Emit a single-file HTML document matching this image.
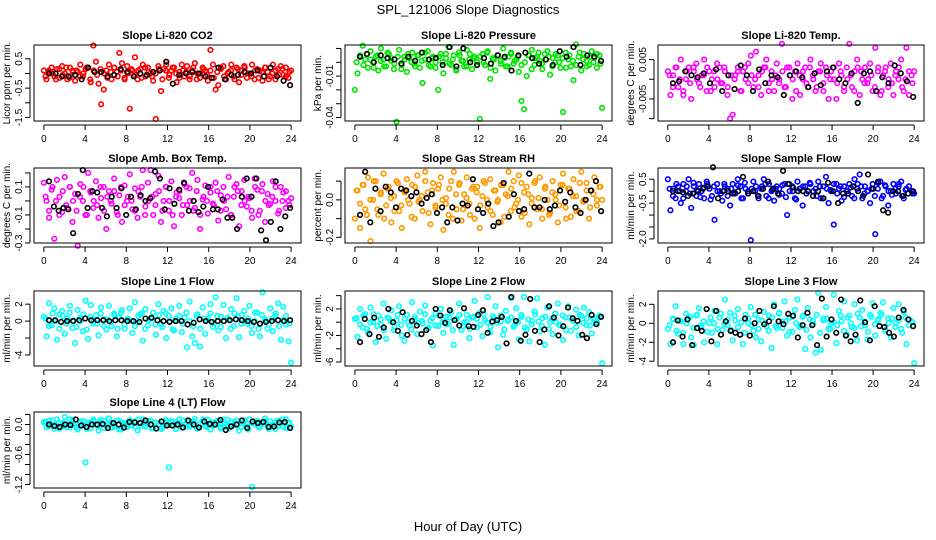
<!DOCTYPE html>
<html><head><meta charset="utf-8"><style>
html,body{margin:0;padding:0;background:#fff;}
svg{display:block;font-family:"Liberation Sans",sans-serif;}
</style></head><body>
<svg id="chart" width="936" height="540" viewBox="0 0 936 540">
<text x="468" y="14" text-anchor="middle" font-size="13">SPL_121006  Slope Diagnostics</text>
<text x="468" y="531" text-anchor="middle" font-size="13">Hour of Day (UTC)</text>
</svg>
<script>
const xTicks = [0,4,8,12,16,20,24];
const co2Color = [0.1,-0.2,0.05,0.2,-0.1,0.15,-0.15,0.25,0.0,-0.2,0.2,0.1,-0.25,0.05,0.3,-0.1,0.15,0.2,-0.3,0.95,0.4,-0.35,-1.05,-0.55,0.1,0.3,-0.2,0.2,0.05,0.7,0.35,-0.15,0.25,-1.2,0.1,0.55,-0.2,0.15,0.3,-0.1,0.2,0.0,-0.25,-1.55,0.25,-0.6,0.15,0.3,-0.15,0.1,0.2,-0.3,0.05,0.3,-0.1,0.25,-0.2,0.1,0.35,0.0,-0.15,0.2,0.1,-0.25,0.8,0.3,-0.55,-0.4,0.15,0.25,-0.2,0.05,0.3,-0.1,0.2,-0.3,0.1,0.25,-0.15,0.0,0.3,-0.2,0.15,0.1,-0.25,0.2,0.05,-0.1,0.3,-0.2,0.15,0.25,-0.05,0.2,-0.15,0.1];
const co2Band = [-0.1,0.1,0.0,-0.2,0.15,-0.05,0.2,-0.15,0.05,0.1,-0.1,0.0,0.2,-0.2,0.1,-0.05,0.15,0.0,-0.15,0.05,0.2,-0.1,0.1,-0.2,0.0,0.15,-0.05,0.1,-0.15,0.2,0.05,-0.1,0.0,0.15,-0.2,0.1,-0.05,0.2,0.0,-0.15,0.1,0.05,-0.1,0.2,-0.2,0.0,0.15,-0.05,0.1,-0.15,0.05,0.2,-0.1,0.0,0.1,-0.2,0.15,-0.05,0.2,0.0,-0.1,0.1,-0.15,0.05,0.2,-0.2,0.0,0.1,-0.05,0.15,-0.1,0.05];
const co2Black = [0.0,0.0,-0.1,-0.1,-0.05,-0.2,0.2,0.05,0.05,-0.1,-0.05,0.15,0.05,-0.1,0.0,-0.05,0.05,0.1,0.4,-0.35,-0.05,0.0,0.05,0.0,-0.1,-0.15,0.2,-0.2,-0.05,-0.05,0.05,0.0,0.1,-0.1,0.2,-0.1,-0.25,-0.4];
const presColor = [-0.02,-0.008,0.005,0.012,0.002,-0.004,0.008,0.0,0.004,-0.006,0.01,0.002,-0.003,0.006,0.001,-0.005,-0.043,0.009,-0.002,0.004,-0.007,0.003,0.007,-0.001,0.005,-0.004,-0.015,0.002,0.008,-0.003,0.004,0.0,-0.02,0.006,-0.008,0.003,0.011,-0.002,0.005,-0.006,0.007,0.001,-0.003,0.009,0.002,-0.005,0.004,0.0,-0.041,0.006,-0.002,0.008,-0.012,0.003,-0.006,0.005,0.001,0.01,-0.003,0.004,0.007,-0.001,0.002,-0.007,-0.028,-0.034,-0.01,0.005,0.009,-0.002,0.004,0.001,-0.005,0.006,0.008,-0.009,0.003,0.0,0.005,-0.004,-0.036,0.007,0.002,-0.003,-0.013,0.013,0.004,-0.006,0.006,0.001,-0.002,0.008,0.003,-0.004,0.005,-0.033];
const presBand = [0.0,0.004,-0.002,0.006,0.002,-0.004,0.005,0.001,-0.003,0.007,0.003,-0.001,0.004,-0.005,0.002,0.006,0.0,-0.003,0.005,0.001,0.007,-0.002,0.003,-0.004,0.004,0.0,0.006,-0.001,0.002,-0.005,0.005,0.001,-0.003,0.006,0.003,-0.002,0.004,0.0,0.007,-0.004,0.002,0.005,-0.001,0.003,-0.003,0.006,0.001,0.004,-0.002,0.0,0.005,-0.005,0.003,0.007,-0.001,0.002,0.004,-0.003,0.006,0.0,0.003,-0.004,0.005,0.001,-0.002,0.007,0.002,-0.003,0.004,0.0,0.006,-0.001];
const presBlack = [0.004,0.006,0.0,0.005,0.003,0.002,-0.001,0.004,0.001,0.007,0.002,0.003,-0.002,0.011,-0.003,0.01,0.0,-0.002,0.003,-0.001,0.005,0.004,-0.006,0.005,0.007,0.003,-0.001,0.002,-0.002,0.008,0.004,0.011,-0.002,0.005,0.004,0.001];
const tempColor = [0.002,-0.004,0.001,0.003,-0.002,0.005,-0.004,0.0,0.003,-0.005,0.002,0.004,-0.001,0.001,0.005,-0.003,0.002,0.0,-0.002,0.004,0.003,-0.001,0.002,-0.004,-0.01,-0.009,0.001,0.003,-0.003,0.002,0.0,0.004,0.006,-0.002,0.007,0.001,-0.004,0.003,0.005,-0.001,0.002,-0.003,0.004,0.0,0.009,-0.002,0.003,0.001,-0.005,0.002,0.004,-0.004,0.0,0.003,-0.002,0.005,0.001,-0.003,0.002,0.004,-0.001,0.003,-0.005,0.002,0.0,-0.005,0.004,0.001,-0.003,0.003,0.009,-0.002,0.002,0.005,-0.004,0.0,0.003,-0.001,0.004,-0.003,0.008,0.002,-0.004,0.001,0.003,-0.002,0.004,-0.004,0.002,0.0,0.005,-0.003,0.008,-0.004,0.001,0.002];
const tempBand = [0.001,-0.002,0.003,0.0,-0.003,0.002,-0.001,0.003,0.0,-0.002,0.001,0.003,-0.003,0.002,0.0,-0.001,0.003,-0.002,0.001,0.0,0.002,-0.003,0.003,-0.001,0.001,0.0,-0.002,0.002,0.003,-0.003,0.0,0.001,-0.001,0.002,-0.002,0.003,0.0,-0.003,0.001,0.002,-0.001,0.003,0.0,-0.002,0.002,-0.003,0.001,0.0,0.003,-0.001,0.002,-0.002,0.0,0.001,-0.003,0.003,0.002,-0.001,0.0,0.001,-0.002,0.003,-0.003,0.002,0.0,-0.001,0.001,0.003,-0.002,0.0,0.002,-0.001];
const tempBlack = [-0.001,-0.0005,0.002,0.001,0.0005,0.0015,-0.001,0.0025,-0.003,0.001,-0.0025,0.0035,0.001,-0.003,0.0025,-0.001,0.001,0.0005,-0.004,0.001,0.002,0.0005,-0.002,0.0015,-0.0015,0.002,0.003,0.0,-0.001,0.0015,-0.006,0.0015,0.002,-0.003,0.0005,-0.001,0.0035,0.0015,-0.0005,-0.0045];
const ambColor = [0.13,0.0,-0.12,0.08,-0.27,0.15,0.03,-0.08,0.17,-0.05,0.1,-0.15,0.05,-0.32,0.12,0.0,-0.1,0.2,0.06,-0.05,0.14,-0.12,0.02,0.1,-0.2,0.07,-0.02,0.16,-0.08,0.04,-0.15,0.11,0.0,0.19,-0.06,0.09,-0.12,0.03,0.22,-0.04,0.13,0.22,-0.1,0.05,0.18,-0.15,0.0,0.1,-0.07,0.14,-0.18,0.06,0.02,-0.1,0.12,-0.03,0.09,0.2,-0.05,0.15,-0.2,0.01,0.11,-0.09,0.06,-0.02,0.13,-0.14,0.04,0.1,-0.06,0.17,-0.1,0.03,0.12,-0.18,0.07,0.15,-0.04,0.02,-0.12,0.16,0.08,-0.07,0.12,-0.15,0.05,-0.02,0.14,0.0,-0.09,0.1,0.06,-0.05,0.0,0.02];
const ambBand = [0.03,-0.07,0.1,0.0,-0.1,0.07,-0.03,0.1,0.0,-0.07,0.03,0.1,-0.1,0.07,0.0,-0.03,0.1,-0.07,0.03,0.0,0.07,-0.1,0.1,-0.03,0.03,0.0,-0.07,0.07,0.1,-0.1,0.0,0.03,-0.03,0.07,-0.07,0.1,0.0,-0.1,0.03,0.07,-0.03,0.1,0.0,-0.07,0.07,-0.1,0.03,0.0,0.1,-0.03,0.07,-0.07,0.0,0.03,-0.1,0.1,0.07,-0.03,0.0,0.03,-0.07,0.1,-0.1,0.07,0.0,-0.03,0.03,0.1,-0.07,0.0,0.07,-0.03];
const ambBlack = [0.14,-0.04,-0.07,-0.05,-0.06,-0.23,0.05,0.22,-0.05,0.07,0.06,-0.05,-0.11,0.03,-0.05,0.09,-0.1,0.03,-0.06,0.04,0.0,0.02,0.21,0.16,-0.06,0.09,-0.02,0.08,0.13,-0.07,0.0,-0.08,-0.04,0.1,-0.06,-0.06,0.01,-0.12,-0.12,-0.2,0.03,0.16,0.03,0.16,-0.21,-0.28,-0.15,0.14,-0.2,-0.11,-0.05];
const rhColor = [-0.1,0.05,-0.15,0.08,-0.05,0.12,-0.22,0.0,0.1,-0.08,0.04,0.14,-0.03,0.07,-0.12,0.02,0.1,-0.06,-0.15,0.05,0.11,-0.02,0.08,-0.1,0.13,0.0,-0.06,0.15,0.04,-0.13,0.09,-0.03,0.06,0.12,-0.16,0.01,-0.08,0.1,0.15,-0.05,0.08,-0.11,0.03,0.12,-0.02,0.06,-0.1,0.07,-0.15,0.02,0.09,-0.04,0.11,-0.08,0.05,0.0,-0.12,0.08,0.03,0.15,-0.06,0.1,-0.02,0.13,-0.09,0.04,0.07,-0.13,0.01,0.09,-0.05,0.12,-0.1,0.06,0.0,-0.07,0.1,0.03,-0.12,0.08,0.14,-0.04,0.06,-0.09,0.11,0.02,-0.06,0.15,0.0,0.09,-0.1,0.05,0.12,-0.03,0.07,0.0];
const rhBand = [0.05,-0.02,0.08,-0.08,0.0,0.1,-0.05,0.03,-0.1,0.06,0.01,-0.06,0.09,-0.03,0.04,0.0,-0.09,0.07,-0.01,0.02,0.1,-0.07,0.05,-0.04,0.08,0.0,-0.02,0.06,-0.1,0.03,0.09,-0.05,0.01,-0.08,0.07,0.04,-0.03,0.1,0.0,-0.06,0.05,-0.01,0.08,-0.09,0.02,0.06,-0.04,0.0,0.09,-0.07,0.03,-0.02,0.1,0.01,-0.05,0.07,-0.08,0.04,0.0,-0.03,0.08,-0.1,0.06,0.02,-0.06,0.09,-0.01,0.05,-0.04,0.03,0.0,0.07];
const rhBlack = [-0.08,0.15,-0.12,0.06,-0.06,0.07,0.04,-0.04,0.06,0.05,0.02,0.04,-0.02,0.01,0.03,-0.07,-0.04,-0.12,-0.04,-0.11,-0.02,-0.03,0.11,-0.05,-0.07,-0.02,-0.14,-0.12,0.09,-0.09,0.03,-0.06,-0.05,0.14,-0.04,-0.04,0.0,-0.05,-0.03,0.05,-0.01,0.04,-0.04,-0.07,0.0,0.05,0.1,-0.06];
const flowColor = [0.5,-0.8,0.1,-0.3,0.2,-0.5,0.3,0.0,0.5,-0.7,0.2,-0.2,0.3,0.0,-0.3,0.4,0.1,-0.2,-1.2,0.3,0.0,-0.4,0.2,0.1,-0.6,0.3,-0.1,0.5,0.2,-0.3,0.1,0.0,-2.05,0.4,0.2,-0.3,0.1,0.5,-0.2,0.3,0.0,-0.4,0.2,0.1,-0.1,0.3,-1.0,0.0,0.2,-0.3,0.4,0.1,-0.6,0.2,0.0,0.3,-0.2,0.1,0.4,-0.3,0.2,0.6,-0.5,0.0,-1.4,0.3,0.1,-0.4,0.2,0.0,0.3,-0.2,0.5,0.1,0.7,-0.3,0.2,0.0,-0.5,0.3,-1.8,0.1,0.4,-0.2,0.2,-0.6,0.0,0.3,-0.1,0.2,0.4,-0.3,0.1,0.2,0.0,-0.1];
const flowBand = [0.1,-0.2,0.3,0.0,-0.3,0.2,-0.1,0.35,0.05,-0.25,0.15,0.3,-0.35,0.2,0.0,-0.1,0.3,-0.2,0.1,-0.05,0.25,-0.3,0.35,-0.1,0.1,0.0,-0.2,0.2,0.3,-0.3,0.05,0.1,-0.15,0.25,-0.25,0.3,0.0,-0.35,0.1,0.2,-0.1,0.35,0.0,-0.2,0.2,-0.3,0.1,0.05,0.3,-0.1,0.2,-0.25,0.0,0.15,-0.3,0.3,0.2,-0.1,0.0,0.1,-0.2,0.35,-0.3,0.25,0.0,-0.15,0.1,0.3,-0.2,0.05,0.2,-0.1];
const flowBlack = [0.0,0.0,-0.05,-0.2,-0.1,0.0,0.1,0.2,1.0,-0.3,0.0,0.0,-0.1,0.0,0.6,-0.1,0.0,-0.2,0.1,0.4,0.1,-0.1,0.85,0.3,0.15,0.0,0.0,0.0,-0.2,0.0,-0.3,0.35,0.0,-0.5,-0.1,-0.1,0.2,0.0,-0.2,0.7,0.1,0.4,-0.8,-0.9,0.0,0.0,-0.2,-0.1,0.0];
const line1Color = [0.5,-1.8,2.1,-0.5,1.5,-2.2,0.8,1.2,-1.5,0.3,1.8,-0.8,-2.6,1.3,0.0,-1.2,2.4,-2.1,1.9,-0.3,0.7,-1.7,1.6,0.2,-1.0,1.8,-0.6,0.9,-1.8,0.4,1.3,-0.9,0.2,1.5,-1.4,2.2,-0.2,0.8,-2.3,1.4,-0.5,0.3,1.0,-1.6,2.0,-0.4,1.2,-2.0,0.6,1.5,-1.1,0.0,1.8,-1.3,0.4,-3.1,2.3,-1.8,-2.6,0.8,-3.0,1.6,-1.5,0.3,2.0,-0.7,2.8,-1.1,0.5,1.9,-2.0,0.2,1.4,-0.6,2.7,-1.9,0.7,1.2,-0.3,1.8,-1.4,0.0,1.0,-1.8,3.4,0.2,-0.9,1.5,-1.2,0.6,2.1,-2.2,1.7,-0.4,-2.4,-4.9];
const line1Band = [0.3,-0.6,0.9,0.0,-0.9,0.6,-0.3,1.0,0.1,-0.7,0.4,0.8,-1.0,0.5,0.0,-0.3,0.9,-0.6,0.2,-0.1,0.7,-0.9,1.0,-0.4,0.3,0.0,-0.6,0.6,0.9,-0.9,0.1,0.3,-0.4,0.7,-0.7,0.9,0.0,-1.0,0.3,0.6,-0.3,1.0,0.0,-0.6,0.6,-0.9,0.3,0.1,0.9,-0.3,0.6,-0.7,0.0,0.4,-0.9,0.9,0.6,-0.3,0.0,0.3,-0.6,1.0,-0.9,0.7,0.0,-0.4,0.3,0.9,-0.6,0.1,0.6,-0.3];
const line1Black = [0.1,0.1,-0.1,0.0,0.0,0.1,0.3,0.1,0.1,0.1,0.0,0.1,0.1,0.0,0.0,-0.1,0.3,0.4,0.1,0.0,-0.1,0.0,0.0,-0.4,-0.2,0.2,0.0,-0.1,0.0,0.0,0.1,0.2,0.1,0.0,-0.1,-0.3,-0.1,0.0,0.1,0.0,0.1];
const line2Color = [0.5,-2.2,2.0,-0.8,1.2,-1.5,2.2,0.0,-3.0,1.0,-0.4,2.8,-2.5,0.6,1.8,-1.2,0.3,2.4,-2.0,-2.8,1.1,-0.5,3.0,0.4,-1.8,1.6,-0.2,2.5,-1.0,0.2,-3.5,1.3,-0.6,2.0,-1.6,0.8,-0.3,1.5,-3.4,0.5,2.8,-1.2,0.0,1.1,-2.4,0.7,3.2,-0.8,1.4,-2.1,0.3,3.8,-1.5,0.9,2.4,-3.8,0.1,-1.9,1.7,0.4,3.6,-0.7,2.1,-2.6,0.8,3.8,-1.1,-2.9,0.2,1.6,3.6,-1.4,0.6,-3.4,2.2,0.0,-1.8,1.3,2.8,-0.5,-2.7,0.7,2.4,-1.3,0.3,1.9,-2.0,0.9,2.2,-0.4,1.5,-1.7,0.6,-0.2,1.0,-6.2];
const line2Band = [0.6,-0.3,1.0,-1.0,0.0,1.2,-0.6,0.4,-1.2,0.7,0.1,-0.7,1.1,-0.4,0.5,0.0,-1.1,0.8,-0.1,0.2,1.2,-0.8,0.6,-0.5,1.0,0.0,-0.3,0.7,-1.2,0.4,1.1,-0.6,0.1,-1.0,0.8,0.5,-0.4,1.2,0.0,-0.7,0.6,-0.1,1.0,-1.1,0.2,0.7,-0.5,0.0,1.1,-0.8,0.4,-0.3,1.2,0.1,-0.6,0.8,-1.0,0.5,0.0,-0.4,1.0,-1.2,0.7,0.2,-0.7,1.1,-0.1,0.6,-0.5,0.4,0.0,0.8];
const line2Black = [-3.0,0.5,-1.8,0.7,-2.2,-0.8,2.0,0.0,-1.3,1.5,-1.9,0.2,-0.5,-1.8,-1.2,-3.0,2.0,1.0,-0.1,1.8,0.3,-0.5,2.1,-0.6,-0.7,1.1,1.8,-1.6,0.1,0.3,0.8,-3.2,3.8,0.2,-2.8,-1.9,3.5,-1.3,-3.0,-1.1,2.4,0.7,-2.0,-0.6,2.2,0.6,0.2,-1.9,-2.4,1.1,-0.3,0.8];
const line3Color = [-0.6,-2.2,0.4,1.8,-1.1,0.2,-2.2,1.0,0.5,-1.5,-2.3,0.8,1.6,-0.4,-2.0,1.5,0.0,-1.0,1.3,-2.2,0.6,-0.7,2.5,-0.2,1.1,-1.8,0.3,1.5,-1.2,-2.2,0.9,0.0,1.7,-0.8,-1.5,0.4,-1.9,1.2,-0.3,0.8,-2.6,2.0,-0.5,1.1,0.2,2.3,-1.3,0.6,-0.9,1.4,2.5,-0.2,0.7,-2.7,1.6,-1.5,0.3,-3.1,3.2,-2.8,0.5,1.7,-0.6,0.0,3.0,-2.1,1.3,0.2,2.3,-1.2,0.8,-0.4,2.0,-1.8,0.6,1.4,-0.2,-1.7,0.9,2.1,-1.3,0.3,1.1,2.2,-0.8,0.5,-1.5,1.6,0.0,2.0,-0.6,1.2,-2.2,0.4,0.2,-4.2];
const line3Band = [-0.2,0.5,-0.8,0.3,-1.0,0.0,0.7,-0.5,0.9,-0.3,0.2,-0.9,0.6,0.0,-0.6,1.0,-0.1,0.4,-0.7,0.8,-0.4,0.1,-1.0,0.5,-0.2,0.9,-0.6,0.3,0.0,-0.8,0.6,-0.3,1.0,-0.5,0.2,-0.9,0.7,0.0,-0.4,0.8,-0.7,0.4,-0.1,0.9,-1.0,0.3,0.5,-0.6,0.1,-0.2,0.8,-0.8,0.6,0.0,-0.5,1.0,-0.3,0.2,-0.9,0.7,-0.1,0.4,0.9,-0.7,0.0,0.5,-0.4,0.3,-1.0,0.6,-0.2,0.1];
const line3Black = [-2.0,0.3,-1.4,0.4,-2.3,-0.5,-0.8,1.5,-1.9,1.3,-1.2,0.2,-0.8,-1.0,-1.2,0.5,-1.3,0.0,1.3,-0.1,0.2,1.8,0.2,-0.1,1.0,0.8,-1.5,-0.2,1.1,-0.2,-2.3,2.6,-1.4,0.4,-1.0,2.5,-1.3,-1.9,-1.2,2.4,0.1,-1.8,1.8,-0.3,-0.4,-1.0,-1.4,0.6,1.4,0.4,-0.3];
const line4Color = [0.05,-0.05,0.08,0.0,-0.08,0.1,0.03,-0.04,0.15,0.0,-0.06,0.09,0.02,-0.1,0.06,0.0,-0.76,0.04,-0.07,0.1,0.0,-0.12,0.05,0.08,-0.03,0.12,-0.06,0.02,0.07,-0.1,0.04,0.0,-0.05,0.09,-0.02,0.06,-0.12,0.03,0.1,-0.04,0.01,0.08,-0.07,0.04,0.0,-0.09,0.06,0.02,-0.86,0.07,-0.03,0.05,0.1,-0.06,0.0,0.08,-0.04,0.03,0.11,-0.08,0.02,0.06,-0.03,0.09,-0.1,0.04,0.0,0.07,-0.05,0.1,0.02,-0.08,0.05,-0.02,0.08,-0.12,0.03,0.06,-0.04,0.1,-1.25,0.01,0.07,-0.06,0.04,0.12,-0.03,0.06,0.0,-0.09,0.08,0.03,-0.05,0.1,0.02,-0.04];
const line4Band = [0.05,-0.03,0.08,0.0,-0.08,0.03,-0.05,0.1,0.0,-0.06,0.04,0.07,-0.09,0.02,0.06,-0.02,0.09,-0.07,0.01,0.05,-0.04,0.08,-0.1,0.03,0.0,0.06,-0.05,0.1,-0.03,0.02,0.07,-0.08,0.04,0.0,-0.06,0.09,-0.01,0.05,-0.09,0.03,0.08,-0.04,0.0,0.06,-0.07,0.02,0.1,-0.05,0.04,-0.02,0.07,-0.08,0.01,0.09,-0.03,0.05,0.0,-0.06,0.08,-0.1,0.03,0.06,-0.04,0.02,0.07,-0.09,0.0,0.05,-0.02,0.1,-0.07,0.04];
const line4Black = [0.0,-0.03,-0.05,0.0,-0.01,0.1,-0.02,-0.05,0.0,0.0,0.01,-0.07,0.03,0.0,-0.06,0.05,0.04,0.03,0.08,0.0,-0.08,0.06,-0.02,-0.02,0.0,-0.06,0.08,0.0,-0.06,0.06,0.01,0.0,0.09,-0.11,-0.04,0.0,0.08,-0.07,0.06,0.03,0.05,-0.05,-0.04,0.04,0.05,-0.07];

const co2Ticks = [-1.5,-1.0,-0.5,0,0.5], co2Labels = ["-1.5","","-0.5","","0.5"];
const presTicks = [-0.04,-0.03,-0.02,-0.01,0,0.01], presLabels = ["-0.04","","","-0.01","",""];
const tempTicks = [-0.01,-0.005,0,0.005], tempLabels = ["","-0.005","","0.005"];
const ambTicks = [-0.3,-0.2,-0.1,0,0.1,0.2], ambLabels = ["-0.3","","-0.1","","0.1",""];
const rhTicks = [-0.2,-0.1,0,0.1], rhLabels = ["-0.2","","0.0",""];
const flowTicks = [-2.0,-1.5,-1.0,-0.5,0,0.5], flowLabels = ["-2.0","","","-0.5","","0.5"];
const line1Ticks = [-4,-2,0,2], line1Labels = ["-4","","0","2"];
const line2Ticks = [-6,-4,-2,0,2,4], line2Labels = ["-6","","-2","","2",""];
const line3Ticks = [-4,-2,0,2], line3Labels = ["-4","-2","0","2"];
const line4Ticks = [-1.2,-1.0,-0.8,-0.6,-0.4,-0.2,0,0.2], line4Labels = ["-1.2","","","-0.6","","","0.0",""];

const NS = "http://www.w3.org/2000/svg";
const svg = document.getElementById('chart');
function mk(tag, attrs, parent){ const e=document.createElementNS(NS,tag); for(const k in attrs) e.setAttribute(k,attrs[k]); (parent||svg).appendChild(e); return e; }
const cols=[[34,301],[345,612],[658,924]];
const rows=[[45,121],[168,243],[291,366],[412,488]];
const panels=[
 {name:'co2',title:'Slope Li-820 CO2',ylab:'Licor ppm per min.',col:0,row:0,ymin:-1.62,ymax:0.97,ticks:co2Ticks,labels:co2Labels,c:co2Color,d:co2Band,b:co2Black,color:'#ff0000'},
 {name:'pressure',title:'Slope Li-820 Pressure',ylab:'kPa per min.',col:1,row:0,ymin:-0.0425,ymax:0.0125,ticks:presTicks,labels:presLabels,c:presColor,d:presBand,b:presBlack,color:'#00e600'},
 {name:'li820-temp',title:'Slope Li-820 Temp.',ylab:'degrees C per min.',col:2,row:0,ymin:-0.0106,ymax:0.0087,ticks:tempTicks,labels:tempLabels,c:tempColor,d:tempBand,b:tempBlack,color:'#ff00ff'},
 {name:'amb-box-temp',title:'Slope Amb. Box Temp.',ylab:'degrees C per min.',col:0,row:1,ymin:-0.3,ymax:0.235,ticks:ambTicks,labels:ambLabels,c:ambColor,d:ambBand,b:ambBlack,color:'#ff00ff'},
 {name:'gas-stream-rh',title:'Slope Gas Stream RH',ylab:'percent per min.',col:1,row:1,ymin:-0.23,ymax:0.17,ticks:rhTicks,labels:rhLabels,c:rhColor,d:rhBand,b:rhBlack,color:'#ff9900'},
 {name:'sample-flow',title:'Slope Sample Flow',ylab:'ml/min per min.',col:2,row:1,ymin:-2.17,ymax:0.97,ticks:flowTicks,labels:flowLabels,c:flowColor,d:flowBand,b:flowBlack,color:'#0000ff'},
 {name:'line1-flow',title:'Slope Line 1 Flow',ylab:'ml/min per min.',col:0,row:2,ymin:-5.3,ymax:3.55,ticks:line1Ticks,labels:line1Labels,c:line1Color,d:line1Band,b:line1Black,color:'#00ffff'},
 {name:'line2-flow',title:'Slope Line 2 Flow',ylab:'ml/min per min.',col:1,row:2,ymin:-6.6,ymax:4.7,ticks:line2Ticks,labels:line2Labels,c:line2Color,d:line2Band,b:line2Black,color:'#00ffff'},
 {name:'line3-flow',title:'Slope Line 3 Flow',ylab:'ml/min per min.',col:2,row:2,ymin:-4.5,ymax:3.4,ticks:line3Ticks,labels:line3Labels,c:line3Color,d:line3Band,b:line3Black,color:'#00ffff'},
 {name:'line4-flow',title:'Slope Line 4 (LT) Flow',ylab:'ml/min per min.',col:0,row:3,ymin:-1.27,ymax:0.25,ticks:line4Ticks,labels:line4Labels,c:line4Color,d:line4Band,b:line4Black,color:'#00ffff'}
];
panels.forEach(p=>{
  const [L,R]=cols[p.col], [T,B]=rows[p.row];
  const xs=v=>L+(v+0.96)/25.92*(R-L);
  const ys=v=>B-(v-p.ymin)/(p.ymax-p.ymin)*(B-T);
  const g=mk('g',{});
  
  
  const t=mk('text',{x:(L+R)/2,y:T-6,'text-anchor':'middle','font-size':'11','font-weight':'bold'},g);
  t.textContent=p.title;
  
  
  const yl=mk('text',{x:0,y:0,'text-anchor':'middle','font-size':'10',transform:`translate(${L-24},${(T+B)/2}) rotate(-90)`},g);
  yl.textContent=p.ylab;
  
  
  p.c.forEach((v,i)=>{
    const c=mk('circle',{cx:xs(i*24/(p.c.length-1)),cy:ys(v),r:2.3,fill:'none',stroke:p.color,'stroke-width':1.6},g);
    
    
  });
  p.d.forEach((v,i)=>{
    const c=mk('circle',{cx:xs((i+0.5)*24/p.d.length),cy:ys(v),r:2.3,fill:'none',stroke:p.color,'stroke-width':1.6},g);
    
    
  });
  p.b.forEach((v,i)=>{
    const c=mk('circle',{cx:xs(0.5+i*23.4/(p.b.length-1)),cy:ys(v),r:2.3,fill:'none',stroke:'#000','stroke-width':1.6},g);
    
    
  });
  const box=mk('rect',{x:L,y:T,width:R-L,height:B-T,fill:'none',stroke:'#000','stroke-width':1},g);
  
  
  mk('line',{x1:xs(xTicks[0]),x2:xs(xTicks[xTicks.length-1]),y1:B+4,y2:B+4,stroke:'#000'},g);
  xTicks.forEach(v=>{
    mk('line',{x1:xs(v),x2:xs(v),y1:B+4,y2:B+9,stroke:'#000'},g);
    const tl=mk('text',{x:xs(v),y:B+21,'text-anchor':'middle','font-size':'10'},g);
    tl.textContent=v;
    
    
  });
  const tk=p.ticks;
  mk('line',{x1:L-4,x2:L-4,y1:ys(tk[0]),y2:ys(tk[tk.length-1]),stroke:'#000'},g);
  tk.forEach((v,i)=>{
    mk('line',{x1:L-9,x2:L-4,y1:ys(v),y2:ys(v),stroke:'#000'},g);
    if(p.labels[i]){
      const tl=mk('text',{x:0,y:0,'text-anchor':'middle','font-size':'10',transform:`translate(${L-12},${ys(v)}) rotate(-90)`},g);
      tl.textContent=p.labels[i];
      
      
    }
  });
});
</script>
</body></html>
